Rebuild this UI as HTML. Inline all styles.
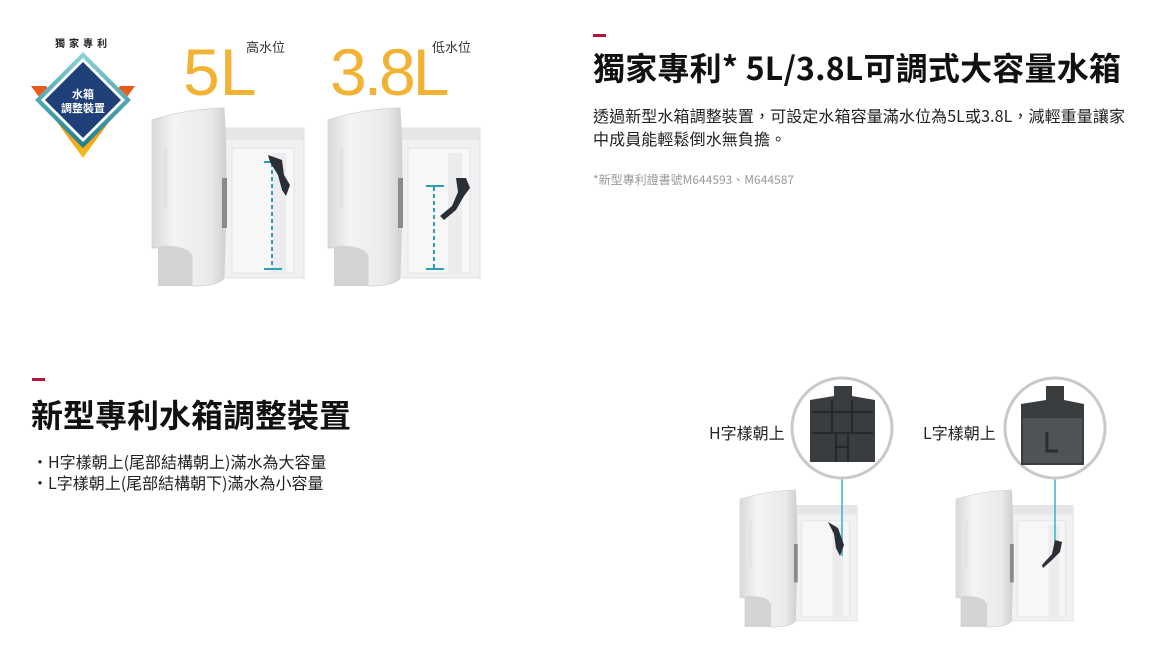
<!DOCTYPE html>
<html><head><meta charset="utf-8">
<style>
body{margin:0;width:1155px;height:671px;background:#fff;position:relative;overflow:hidden;font-family:"Noto Sans CJK TC","Liberation Sans",sans-serif;color:#111}
.a{position:absolute;white-space:nowrap}
.dash{position:absolute;width:13px;height:3px;background:#b5163b}
</style></head><body>
<svg class="a" style="left:0;top:0" width="1155" height="671">
<defs>
<linearGradient id="pan" x1="0" x2="1"><stop offset="0" stop-color="#d9d9db"/><stop offset=".3" stop-color="#f4f4f5"/><stop offset=".8" stop-color="#e9e9ea"/><stop offset="1" stop-color="#cfcfd1"/></linearGradient>
<linearGradient id="or" x1="0" y1="0" x2="0" y2="1"><stop offset="0" stop-color="#e8561b"/><stop offset="1" stop-color="#f3c21a"/></linearGradient>
<linearGradient id="tl" x1="0" y1="0" x2="0" y2="1"><stop offset="0" stop-color="#8fd3d8"/><stop offset="1" stop-color="#1b7d8e"/></linearGradient>
<g id="tank">
<rect x="70" y="20" width="82" height="150" fill="#f1f1f3" stroke="#e0e0e2"/>
<rect x="70" y="20" width="82" height="12" fill="#e6e6e8"/>
<rect x="80" y="40" width="62" height="125" fill="#f7f7f8" stroke="#e3e3e5"/>
<rect x="120" y="45" width="14" height="120" fill="#ececee"/>
<path d="M0 12 Q30 2 68 0 L72 0 Q76 60 72 170 Q68 178 40 178 L40 148 Q36 138 10 138 L6 140 L0 140 Z" fill="url(#pan)" stroke="#d0d0d2" stroke-width=".8"/>
<path d="M6 140 L10 138 Q36 138 40 148 L40 178 L6 178 Z" fill="#d4d4d6"/>
<rect x="12" y="40" width="3" height="60" rx="1.5" fill="#e1e1e3"/>
<rect x="70" y="70" width="5" height="50" fill="#8a8a8e"/>
</g>
</defs>
<!-- badge -->
<polygon points="31,86 83,158 135,86 120,86 83,138 46,86" fill="url(#or)"/>
<polygon points="83,52 131,100 83,148 35,100" fill="url(#tl)"/>
<polygon points="83,58 125,100 83,142 41,100" fill="#fff"/>
<polygon points="83,62 121,100 83,138 45,100" fill="#1e3f78"/>
<text x="83" y="98" font-size="11" fill="#fff" text-anchor="middle" font-weight="bold" font-family="Noto Sans CJK TC">水箱</text>
<text x="83" y="112" font-size="11" fill="#fff" text-anchor="middle" font-weight="bold" font-family="Noto Sans CJK TC">調整裝置</text>
<text x="83" y="47" font-size="10" fill="#222" text-anchor="middle" font-weight="bold" letter-spacing="4" font-family="Noto Sans CJK TC">獨家專利</text>
<!-- big labels -->
<text x="183" y="95" font-size="66" fill="#f2b334" font-family="Liberation Sans">5L</text>
<text x="246" y="52" font-size="13" fill="#333" font-family="Noto Sans CJK TC">高水位</text>
<text x="330" y="95" font-size="66" fill="#f2b334" font-family="Liberation Sans" letter-spacing="-3">3.8L</text>
<text x="432" y="52" font-size="13" fill="#333" font-family="Noto Sans CJK TC">低水位</text>
<!-- tanks top -->
<use href="#tank" transform="translate(152,108)"/>
<use href="#tank" transform="translate(328,108)"/>
<line x1="272" y1="163" x2="272" y2="268" stroke="#2a9fb5" stroke-width="2" stroke-dasharray="4,3"/>
<line x1="264" y1="162" x2="282" y2="162" stroke="#2a9fb5" stroke-width="2"/>
<line x1="264" y1="269" x2="282" y2="269" stroke="#2a9fb5" stroke-width="2"/>
<path d="M268 155 L282 160 L284 175 L290 185 L286 196 L282 190 L278 175 L270 162 Z" fill="#2a2f35"/>
<line x1="434" y1="187" x2="434" y2="268" stroke="#2a9fb5" stroke-width="2" stroke-dasharray="4,3"/>
<line x1="426" y1="186" x2="444" y2="186" stroke="#2a9fb5" stroke-width="2"/>
<line x1="426" y1="269" x2="444" y2="269" stroke="#2a9fb5" stroke-width="2"/>
<path d="M456 178 L466 178 L470 188 L464 196 L456 210 L444 220 L440 216 L452 206 L458 192 Z" fill="#2a2f35"/>
<!-- bottom tanks -->
<use href="#tank" transform="translate(740,490) scale(0.77)"/>
<use href="#tank" transform="translate(956,490) scale(0.77)"/>
<line x1="842" y1="478" x2="842" y2="556" stroke="#3ab0c6" stroke-width="1.5"/>
<path d="M828 522 L838 528 L844 545 L840 556 L836 548 L834 534 Z" fill="#2a2f35"/>
<line x1="1055" y1="478" x2="1055" y2="545" stroke="#3ab0c6" stroke-width="1.5"/>
<path d="M1055 540 L1062 542 L1060 552 L1052 560 L1043 568 L1042 565 L1052 554 Z" fill="#2a2f35"/>
<!-- circles -->
<circle cx="842" cy="428" r="50" fill="#fff" stroke="#c9c9cb" stroke-width="3"/>
<path d="M834 386 L852 386 L852 396 L875 400 L875 462 L810 462 L810 400 L834 396 Z" fill="#3a3d40"/>
<g stroke="#222" stroke-width="1.5" fill="none"><path d="M812 412 L873 412 M832 400 L832 432 M852 400 L852 432 M812 433 L873 433 M836 433 L836 462 M848 433 L848 462 M836 447 L848 447"/></g>
<circle cx="1055" cy="428" r="50" fill="#fff" stroke="#c9c9cb" stroke-width="3"/>
<path d="M1046 386 L1064 386 L1064 400 L1084 404 L1084 465 L1021 465 L1021 404 L1046 400 Z" fill="#3a3d40"/>
<rect x="1023" y="418" width="59" height="45" fill="#505356"/>
<path d="M1047 432 L1047 451 L1058 451" stroke="#2a2c2e" stroke-width="3" fill="none"/>
</svg>
<div class="dash" style="left:593px;top:34px"></div>
<div class="a" style="left:593px;top:44px;font-size:32px;font-weight:bold;letter-spacing:0.2px">獨家專利* 5L/3.8L可調式大容量水箱</div>
<div class="a" style="left:593px;top:104px;font-size:16px;line-height:23px;letter-spacing:0.1px;color:#222">透過新型水箱調整裝置，可設定水箱容量滿水位為5L或3.8L，減輕重量讓家<br>中成員能輕鬆倒水無負擔。</div>
<div class="a" style="left:593px;top:171px;font-size:12px;color:#999">*新型專利證書號M644593、M644587</div>
<div class="dash" style="left:32px;top:378px"></div>
<div class="a" style="left:31px;top:391px;font-size:32px;font-weight:bold">新型專利水箱調整裝置</div>
<div class="a" style="left:32px;top:451px;font-size:16px;line-height:21px;color:#222">・H字樣朝上(尾部結構朝上)滿水為大容量<br>・L字樣朝上(尾部結構朝下)滿水為小容量</div>
<div class="a" style="left:709px;top:420px;font-size:16px;color:#222">H字樣朝上</div>
<div class="a" style="left:923px;top:420px;font-size:16px;color:#222">L字樣朝上</div>
</body></html>
